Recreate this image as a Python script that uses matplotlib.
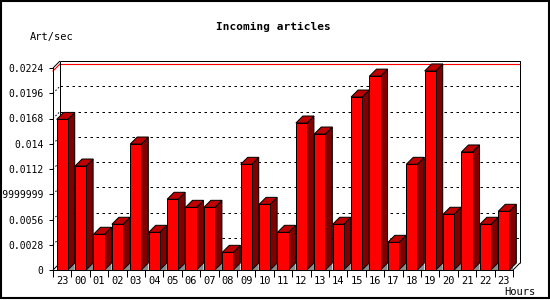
import matplotlib
matplotlib.use("Agg")
import matplotlib.pyplot as plt
from matplotlib.patches import Polygon, Rectangle
import numpy as np

hours = ['23', '00', '01', '02', '03', '04', '05', '06', '07', '08', '09', '10',
         '11', '12', '13', '14', '15', '16', '17', '18', '19', '20', '21', '22', '23']
art_sec = [0.0167, 0.01153, 0.00396, 0.00507, 0.01397, 0.00418, 0.00784, 0.00695,
           0.00695, 0.00196, 0.01172, 0.00728, 0.00418, 0.0163, 0.01508, 0.00507,
           0.01918, 0.0215, 0.00307, 0.01172, 0.02207, 0.00618, 0.01309, 0.00507,
           0.00651]
yticks = [0, 0.0028, 0.0056, 0.0084, 0.0112, 0.014, 0.0168, 0.0196, 0.0224]
ytick_labels = ['0', '0.0028', '0.0056', '0.00839999999', '0.0112', '0.014',
                '0.0168', '0.0196', '0.0224']

plt.rcParams['font.family'] = ['DejaVu Sans Mono']
W, H = 550, 300
fig = plt.figure(figsize=(W / 100, H / 100), dpi=100)
fig.patch.set_facecolor('white')

ax = fig.add_axes([53 / W, 30 / H, 460 / W, 202 / H])
n = len(art_sec)
x0, x1 = -0.5, n - 0.5
ymax = yticks[-1]
ax.set_xlim(x0, x1)
ax.set_ylim(0, ymax)
ax.set_facecolor('none')

# 3D depth, 7 px each way, converted to data units
depth = 7
dx = depth * (x1 - x0) / 460
dy = depth * ymax / 202
lw = 0.72

idx = np.arange(n)
bw = 0.6

# back wall grid
for v in yticks[1:-1]:
    ax.plot([x0 + dx, x1 + dx], [v + dy, v + dy], color='black', lw=lw,
            dashes=(2.5, 3.5), zorder=1, clip_on=False)
    ax.plot([x0, x0 + dx], [v, v + dy], color='black', lw=lw,
            dashes=(1.5, 2), zorder=1, clip_on=False)

# max line
mx = max(art_sec)
ax.plot([x0 + dx, x1 + dx], [mx + dy, mx + dy], color='red', lw=lw + 0.1,
        zorder=1.5, clip_on=False)
ax.plot([x0, x0 + dx], [mx, mx + dy], color='red', lw=lw + 0.1,
        zorder=1.5, clip_on=False)

# walls outline
k = dict(color='black', lw=lw, zorder=2, clip_on=False, solid_capstyle='butt')
ax.plot([x0 + dx, x1 + dx, x1 + dx], [ymax + dy, ymax + dy, dy], **k)
ax.plot([x0 + dx, x0 + dx], [dy, ymax + dy], **k)
ax.plot([x0, x0 + dx], [ymax, ymax + dy], **k)
ax.plot([x0, x0 + dx], [0, dy], **k)
ax.plot([x1, x1 + dx], [0, dy], **k)

# bars
ax.bar(idx, art_sec, width=bw, color='#ff0000', edgecolor='black',
       linewidth=lw, zorder=4)
for i, v in zip(idx, art_sec):
    l, r = i - bw / 2, i + bw / 2
    ax.add_patch(Polygon([(r, 0), (r + dx, dy), (r + dx, 0)], closed=True,
                         facecolor='#8c8c8c', edgecolor='none', zorder=3))
    ax.add_patch(Polygon([(r, 0), (r + dx, dy), (r + dx, v + dy), (r, v)],
                         closed=True, facecolor='#800000', edgecolor='black',
                         linewidth=lw, zorder=3, clip_on=False))
    ax.add_patch(Polygon([(l, v), (r, v), (r + dx, v + dy), (l + dx, v + dy)],
                         closed=True, facecolor='#c00000', edgecolor='black',
                         linewidth=lw, zorder=3, clip_on=False))

for s in ['top', 'right']:
    ax.spines[s].set_visible(False)
for s in ['left', 'bottom']:
    ax.spines[s].set_linewidth(lw)
    ax.spines[s].set_zorder(5)

ax.set_yticks(yticks)
ax.set_yticklabels(ytick_labels)
ax.tick_params(axis='y', length=3, width=lw, pad=4, labelsize=7)
ax.set_xticks(idx)
ax.set_xticklabels(hours)
ax.set_xticks(np.arange(x0, x1 + 0.5, 1), minor=True)
ax.tick_params(axis='x', which='major', length=0, pad=4, labelsize=7.5)
ax.tick_params(axis='x', which='minor', length=5, width=lw)

fig.text(273 / W, 1 - 27 / H, 'Incoming articles', ha='center', va='center',
         fontsize=8, fontweight='bold')
fig.text(30 / W, 1 - 37 / H, 'Art/sec', ha='left', va='center', fontsize=7.5)
fig.text(504 / W, 1 - 292 / H, 'Hours', ha='left', va='center', fontsize=7.5)

fig.add_artist(Rectangle((0.5 / W, 2.5 / H), 548 / W, 297 / H,
                         transform=fig.transFigure, fill=False,
                         edgecolor='black', linewidth=1.5))

fig.savefig('out.png', dpi=100, facecolor='white')
